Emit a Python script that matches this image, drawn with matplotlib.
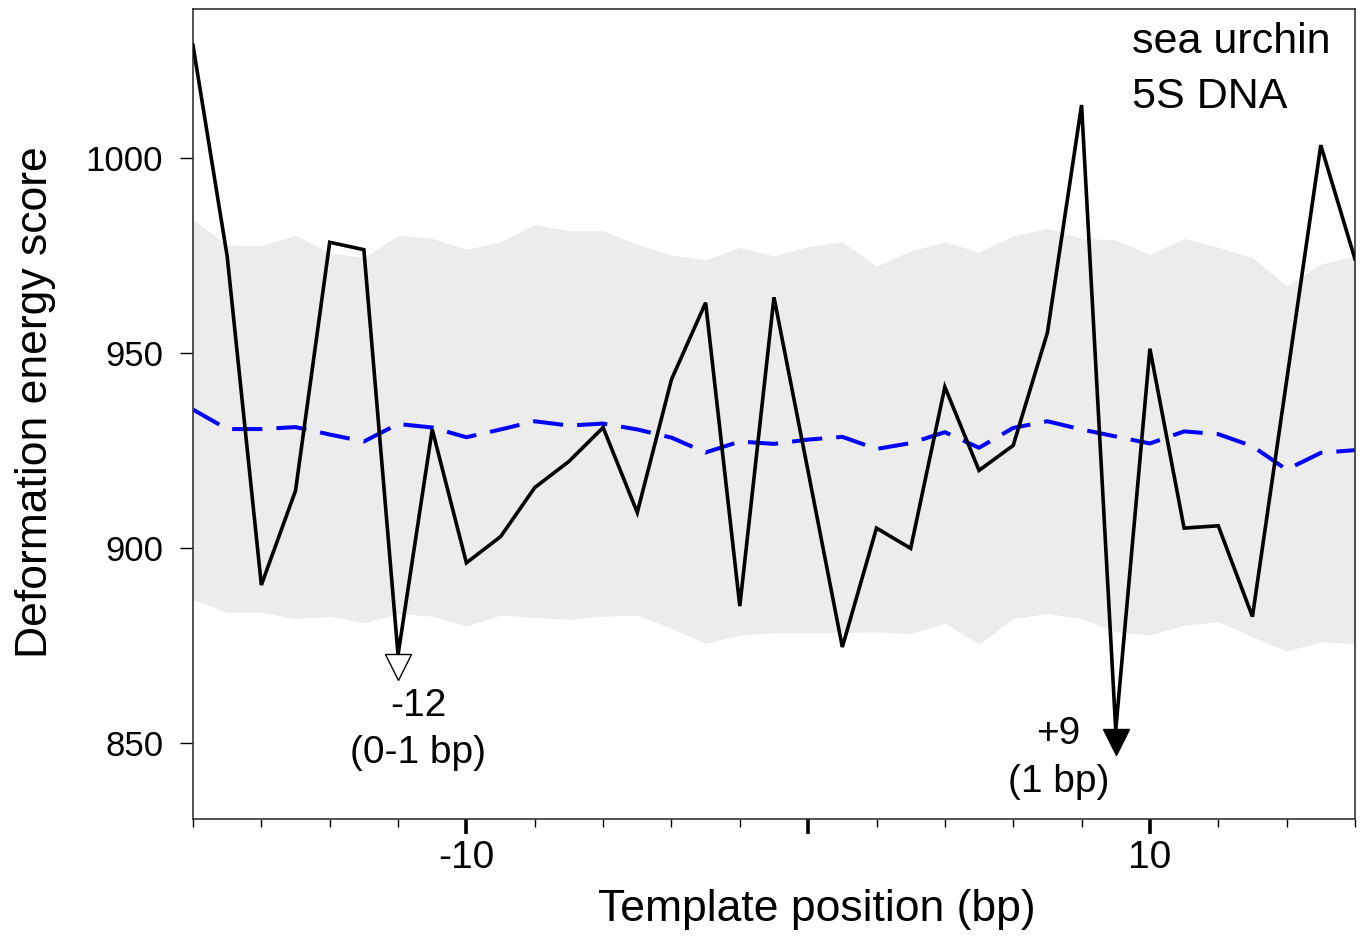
import numpy as np
import matplotlib
matplotlib.use("Agg")
import matplotlib.pyplot as plt

plt.rcParams['font.family'] = ['Liberation Sans', 'DejaVu Sans']

# template positions (bp)
positions = list(range(-18, 17))

# observed deformation energy score (black line)
score = [1028.8, 974.7, 890.4, 914.6, 978.3, 976.4, 872.5, 930.3, 896.1, 902.8,
         915.4, 922.1, 930.8, 909.0, 943.1, 962.8, 885.0, 964.2, 919.5, 874.5,
         905.0, 899.8, 941.2, 919.8, 926.2, 955.1, 1013.5, 853.2, 951.0, 905.0,
         905.6, 882.3, 942.8, 1003.2, 974.0]

# mean of randomised sequences (blue dashed)
mean_score = [935.4, 930.4, 930.4, 930.9, 929.0, 927.2, 931.7, 930.8, 928.3, 930.3,
              932.4, 931.3, 931.8, 930.3, 928.2, 924.4, 927.2, 926.6, 927.7, 928.4,
              925.3, 926.8, 929.6, 925.6, 930.7, 932.4, 930.3, 928.5, 926.7, 929.8,
              929.1, 926.0, 920.0, 924.3, 925.0]

# grey band (upper / lower)
band_upper = [984.1, 977.6, 977.4, 980.1, 975.6, 974.4, 980.1, 979.3, 976.5, 978.4,
              982.9, 981.3, 981.3, 977.8, 975.0, 973.8, 977.0, 974.8, 977.2, 978.4,
              972.2, 976.1, 978.4, 975.8, 980.0, 981.9, 979.3, 978.9, 975.2, 979.3,
              977.0, 974.4, 967.1, 972.7, 974.8]
band_lower = [886.7, 883.4, 883.4, 881.8, 882.4, 880.7, 883.1, 882.4, 879.9, 882.7,
              882.1, 881.6, 882.4, 882.7, 879.3, 875.4, 877.6, 878.2, 878.2, 878.2,
              878.4, 878.0, 880.6, 875.2, 881.8, 883.1, 881.8, 878.4, 877.6, 880.1,
              881.0, 877.1, 873.5, 875.8, 875.4]

# marked sites
site_open = -12
site_open_labels = ["-12", "(0-1 bp)"]
site_filled = 9
site_filled_labels = ["+9", "(1 bp)"]

xmajor = [-10, 0, 10]
xmajor_labels = ["-10", "", "10"]
yticks = [850, 900, 950, 1000]

fig = plt.figure(figsize=(13.63, 9.39), dpi=100)
ax = fig.add_axes([0.1416, 0.1278, 0.8525, 0.8621])

ax.fill_between(positions, band_lower, band_upper, color='#ececec', lw=0, zorder=1)
ax.plot(positions, mean_score, color='#0000ff', lw=2.9, dashes=(7.5, 3.5), zorder=2)
ax.plot(positions, score, color='black', lw=2.6, solid_joinstyle='miter', zorder=3)

# arrow-head markers just below the two sites
off = matplotlib.transforms.ScaledTranslation(0, -8.8 / 72, fig.dpi_scale_trans)
i_open = positions.index(site_open)
i_fill = positions.index(site_filled)
ax.plot([site_open], [score[i_open]], marker='v', ms=19, mfc='white', mec='black',
        mew=1.0, transform=ax.transData + off, zorder=4, clip_on=False)
ax.plot([site_filled], [score[i_fill]], marker='v', ms=19, mfc='black', mec='black',
        mew=1.0, transform=ax.transData + off, zorder=4, clip_on=False)

ax.annotate(site_open_labels[0], (site_open, score[i_open]), xytext=(14.4, -44.4),
            textcoords='offset points', ha='center', va='baseline', fontsize=28)
ax.annotate(site_open_labels[1], (site_open, score[i_open]), xytext=(14.4, -77.8),
            textcoords='offset points', ha='center', va='baseline', fontsize=28)
ax.annotate(site_filled_labels[0], (site_filled, score[i_fill]), xytext=(-41.5, -10),
            textcoords='offset points', ha='center', va='baseline', fontsize=28)
ax.annotate(site_filled_labels[1], (site_filled, score[i_fill]), xytext=(-41, -44.4),
            textcoords='offset points', ha='center', va='baseline', fontsize=28)

ax.text(0.808, 0.9459, "sea urchin", transform=ax.transAxes, fontsize=31, va='baseline')
ax.text(0.808, 0.878, "5S DNA", transform=ax.transAxes, fontsize=31, va='baseline')

ax.set_xlim(-18, 16)
ax.set_ylim(830.4, 1038.0)

ax.set_xticks(xmajor)
ax.set_xticklabels(xmajor_labels)
ax.set_xticks(np.arange(-18, 17, 2), minor=True)
ax.tick_params(axis='x', which='major', direction='out', length=10.8, width=2.6,
               pad=4, labelsize=28)
ax.tick_params(axis='x', which='minor', direction='out', length=6, width=1.0)
ax.set_yticks(yticks)
ax.tick_params(axis='y', direction='out', length=9.4, width=1.0, pad=12, labelsize=25)

for s in ax.spines.values():
    s.set_linewidth(1.2)
    s.set_color('#333333')

ax.set_xlabel("Template position (bp)", fontsize=32)
ax.xaxis.set_label_coords(0.537, -0.087)
ax.set_ylabel("Deformation energy score", fontsize=32)
ax.yaxis.set_label_coords(-0.118, 0.515)

fig.savefig("out.png", dpi=100)
